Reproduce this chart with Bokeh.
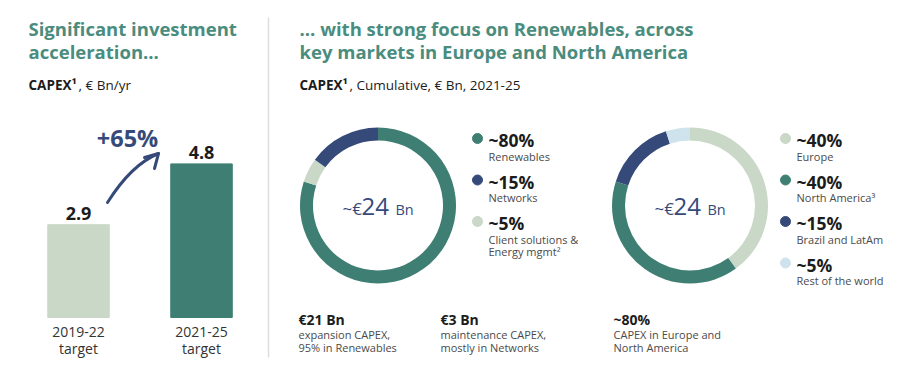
from math import pi
from bokeh.plotting import figure
from bokeh.models import Range1d, ColumnDataSource
from bokeh.layouts import row
from bokeh.core.properties import value
from bokeh.embed import file_html
from bokeh.resources import INLINE

# ---------------- data ----------------
periods = ["2019-22", "2021-25"]
period_sub = ["target", "target"]
capex_per_year = [2.9, 4.8]
growth_label = "+65%"

seg_labels = ["Renewables", "Networks", "Client solutions &\nEnergy mgmt²"]
seg_pct = [80, 15, 5]
seg_ring_order = [0, 2, 1]          # clockwise from 12 o'clock

geo_labels = ["Europe", "North America³", "Brazil and LatAm", "Rest of the world"]
geo_pct = [40, 40, 15, 5]
geo_ring_order = [0, 1, 2, 3]

total_label = ("~€", "24", "Bn")
notes_head = ["€21 Bn", "€3 Bn", "~80%"]
notes_body = [["expansion CAPEX,", "95% in Renewables"],
              ["maintenance CAPEX,", "mostly in Networks"],
              ["CAPEX in Europe and", "North America"]]

# ---------------- style ----------------
FONT = value("Open Sans")
TEAL_T = "#4a8c7e"
TEAL = "#3f7f73"
SAGE = "#c9d8c7"
NAVY = "#364a7a"
LBLUE = "#cfe3ec"
INK = "#1c1c1c"
GREY = "#4a4a4a"
seg_colors = [TEAL, NAVY, SAGE]
geo_colors = [SAGE, TEAL, NAVY, LBLUE]
K = 0.3   # baseline compensation (fraction of font size)


def bare(p):
    p.axis.visible = False
    p.grid.visible = False
    p.outline_line_color = None
    p.min_border = 0
    p.background_fill_color = "white"
    p.border_fill_color = "white"


def txt(p, x, y, t, size, color=INK, bold=False, align="left"):
    p.text(x=[x], y=[y], text=[t], text_font=FONT, text_font_size=f"{size}px",
           text_font_style="bold" if bold else "normal", text_color=color,
           text_align=align, text_baseline="alphabetic", y_offset=-K * size)


# ---------------- left panel: bars ----------------
LW, RW, H = 272, 620, 362
lx = lambda sx: (sx - 78) / 123.0
ly = lambda sy: (317 - sy) / 32.0
left = figure(width=LW, height=H, x_range=Range1d(lx(0), lx(LW)),
              y_range=Range1d(ly(H), ly(0)), output_backend="svg",
              toolbar_location=None)
bare(left)

idx = list(range(len(periods)))
src = ColumnDataSource(dict(x=idx, top=capex_per_year,
                            color=[SAGE, TEAL],
                            lab=[f"{v}" for v in capex_per_year],
                            per=periods, sub=period_sub))
left.vbar(x="x", top="top", bottom=0, width=0.5, color="color", source=src)
left.text(x="x", y="top", text="lab", source=src, text_font=FONT,
          text_font_size="18px", text_font_style="bold", text_color=INK,
          text_align="center", text_baseline="alphabetic", y_offset=-6 - K * 18)
left.text(x="x", y=0, text="per", source=src, text_font=FONT,
          text_font_size="14px", text_color="#333333",
          text_align="center", text_baseline="alphabetic", y_offset=19 - K * 14)
left.text(x="x", y=0, text="sub", source=src, text_font=FONT,
          text_font_size="14px", text_color="#333333",
          text_align="center", text_baseline="alphabetic", y_offset=35 - K * 14)

# growth arrow
left.quadratic(x0=[lx(107)], y0=[ly(202)], x1=[lx(158)], y1=[ly(153)],
               cx=[lx(131)], cy=[ly(164)], line_color=NAVY, line_width=3,
               line_cap="round")
left.multi_line(xs=[[lx(144), lx(158), lx(154)]], ys=[[ly(157), ly(153), ly(168)]],
                line_color=NAVY, line_width=3, line_cap="round", line_join="round")
txt(left, lx(127), ly(145), growth_label, 23.5, NAVY, bold=True, align="center")

# titles
txt(left, lx(28), ly(34), "Significant investment", 18.5, TEAL_T, bold=True)
txt(left, lx(28), ly(57), "acceleration...", 18.5, TEAL_T, bold=True)
txt(left, lx(28), ly(89), "CAPEX¹", 13.5, INK, bold=True)
txt(left, lx(78), ly(89), ", € Bn/yr", 13.5, INK)

# separator
left.segment(x0=[lx(268)], y0=[ly(17)], x1=[lx(268)], y1=[ly(357)],
             line_color="#dddddd", line_width=1.5)

# ---------------- right panel: donuts ----------------
ry = lambda sy: 369 - sy
right = figure(width=RW, height=H, x_range=Range1d(LW, LW + RW),
               y_range=Range1d(ry(H), ry(0)), output_backend="svg",
               toolbar_location=None)
bare(right)

txt(right, 299, ry(34), "... with strong focus on Renewables, across", 18.5, TEAL_T, bold=True)
txt(right, 299, ry(57), "key markets in Europe and North America", 18.5, TEAL_T, bold=True)
txt(right, 299, ry(89), "CAPEX¹", 13.5, INK, bold=True)
txt(right, 349, ry(89), ", Cumulative, € Bn, 2021-25", 13.5, INK)


def donut(cx, cy, pcts, colors, order, labels, lgx):
    total = float(sum(pcts))
    starts, ends, cols = [], [], []
    cum = 0.0
    for i in order:
        a0 = pi / 2 - 2 * pi * (cum + pcts[i]) / total
        a1 = pi / 2 - 2 * pi * cum / total
        starts.append(a0); ends.append(a1); cols.append(colors[i])
        cum += pcts[i]
    right.annular_wedge(x=cx, y=ry(cy), inner_radius=65, outer_radius=78,
                        start_angle=starts, end_angle=ends, color=cols,
                        line_color=None)
    # centre total
    txt(right, cx - 16, ry(213), total_label[0], 17, NAVY, align="right")
    txt(right, cx - 16.5, ry(213), total_label[1], 24, NAVY)
    txt(right, cx + 17.5, ry(213), total_label[2], 14.5, NAVY)
    # legend
    step = 41.5
    for k, (lab, pc, col) in enumerate(zip(labels, pcts, colors)):
        my = 138 + k * step
        right.scatter(x=[lgx], y=[ry(my)], size=10, color=col, marker="circle")
        txt(right, lgx + 11, ry(my + 7), f"~{pc}%", 17.5, INK, bold=True)
        for j, line in enumerate(lab.split("\n")):
            txt(right, lgx + 11, ry(my + 21 + 12 * j), line, 11, GREY)


donut(377.5, 205, seg_pct, seg_colors, seg_ring_order, seg_labels, 477)
donut(689.5, 205, geo_pct, geo_colors, geo_ring_order, geo_labels, 785)

for nx, head, body in zip([298, 440, 613], notes_head, notes_body):
    txt(right, nx, ry(323), head, 14, INK, bold=True)
    for j, line in enumerate(body):
        txt(right, nx, ry(337 + 13.5 * j), line, 11, GREY)

layout = row(left, right)
open("out.html", "w").write(file_html(layout, INLINE))
